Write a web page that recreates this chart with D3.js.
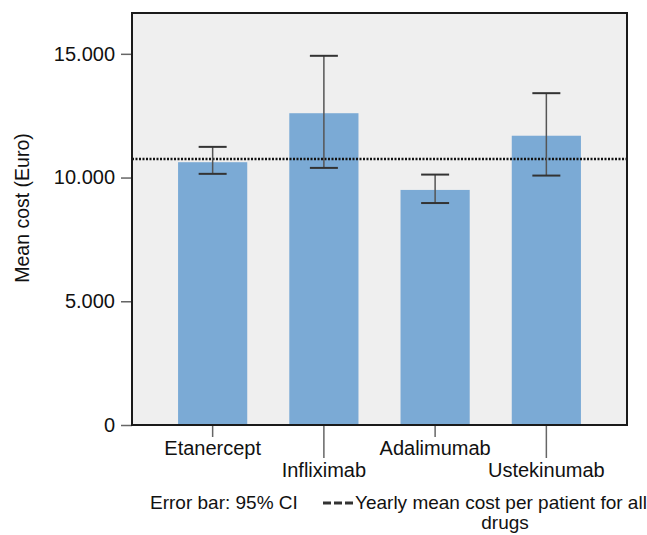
<!DOCTYPE html>
<html lang="en">
<head>
    <meta charset="UTF-8">
    <title>Mean cost per drug</title>
    <script src="https://d3js.org/d3.v7.min.js"></script>
    <style>
        body {
            margin: 0;
            padding: 0;
            background-color: #fff;
            font-family: 'Liberation Sans', Arial, sans-serif;
        }

        .axis text {
            font-size: 20px;
            fill: #111;
        }

        .axis-label {
            font-size: 19.5px;
            fill: #111;
        }

        .note {
            font-size: 19px;
            fill: #111;
        }
    </style>
</head>
<body>
    <svg width="647" height="535"></svg>

    <script>
        // Data
        const drugs = ["Etanercept", "Infliximab", "Adalimumab", "Ustekinumab"];
        const meanCost = [10620, 12600, 9500, 11690];
        const ciLow = [10150, 10390, 8970, 10080];
        const ciHigh = [11240, 14920, 10120, 13410];
        const yearlyMean = 10750;
        const yTicks = [0, 5000, 10000, 15000];

        const svg = d3.select("svg"),
              margin = { top: 13, right: 20, bottom: 110, left: 132 },
              width = +svg.attr("width") - margin.left - margin.right,
              height = +svg.attr("height") - margin.top - margin.bottom;

        const x = d3.scaleBand()
            .domain(drugs)
            .range([0, width])
            .paddingInner(0.378)
            .paddingOuter(0.414);

        const y = d3.scaleLinear()
            .domain([0, 16650])
            .range([height, 0]);

        // 15.000 style thousands
        const euro = d3.formatLocale({ decimal: ",", thousands: ".", grouping: [3], currency: ["", "€"] });
        const fmt = euro.format(",");

        const g = svg.append("g").attr("transform", `translate(${margin.left},${margin.top})`);

        // plot area
        g.append("rect")
            .attr("width", width)
            .attr("height", height)
            .attr("fill", "#efefef");

        // bars
        g.selectAll(".bar")
            .data(drugs)
            .join("rect")
            .attr("class", "bar")
            .attr("x", d => x(d))
            .attr("y", (d, i) => y(meanCost[i]))
            .attr("width", x.bandwidth())
            .attr("height", (d, i) => height - y(meanCost[i]))
            .attr("fill", "#7baad5");

        // reference line
        g.append("line")
            .attr("x1", 0)
            .attr("x2", width)
            .attr("y1", y(yearlyMean))
            .attr("y2", y(yearlyMean))
            .attr("stroke", "#111")
            .attr("stroke-width", 2.5)
            .attr("stroke-dasharray", "2,1.5");

        // error bars
        const capW = 14;
        const err = g.append("g").selectAll("g")
            .data(drugs)
            .join("g")
            .attr("transform", d => `translate(${x(d) + x.bandwidth() / 2},0)`);

        err.append("line")
            .attr("y1", (d, i) => y(ciLow[i]))
            .attr("y2", (d, i) => y(ciHigh[i]))
            .attr("stroke", "#555")
            .attr("stroke-width", 1.5);

        err.selectAll(".cap")
            .data((d, i) => [ciLow[i], ciHigh[i]])
            .join("line")
            .attr("class", "cap")
            .attr("x1", -capW)
            .attr("x2", capW)
            .attr("y1", d => y(d))
            .attr("y2", d => y(d))
            .attr("stroke", "#333")
            .attr("stroke-width", 2);

        // y axis
        const yAxis = g.append("g")
            .attr("class", "axis")
            .call(d3.axisLeft(y).tickValues(yTicks).tickFormat(fmt).tickSize(11).tickPadding(6));
        yAxis.select(".domain").remove();
        yAxis.selectAll(".tick line").attr("stroke", "#666").attr("stroke-width", 1.5);
        yAxis.selectAll("text").style("font-size", "20px");

        // x axis, labels staggered
        const xAxis = g.append("g")
            .attr("class", "axis")
            .attr("transform", `translate(0,${height})`)
            .call(d3.axisBottom(x).tickSize(0));
        xAxis.select(".domain").remove();
        xAxis.selectAll(".tick line")
            .attr("y2", (d, i) => i % 2 ? 33 : 12)
            .attr("stroke", "#666")
            .attr("stroke-width", 1.5);
        xAxis.selectAll(".tick text")
            .attr("dy", 0)
            .attr("y", (d, i) => i % 2 ? 52 : 30)
            .style("font-size", "20px");

        // frame
        g.append("rect")
            .attr("width", width)
            .attr("height", height)
            .attr("fill", "none")
            .attr("stroke", "#1a1a1a")
            .attr("stroke-width", 2);

        // y title
        svg.append("text")
            .attr("class", "axis-label")
            .attr("transform", "translate(29,208) rotate(-90)")
            .attr("text-anchor", "middle")
            .text("Mean cost (Euro)");

        // footer
        svg.append("text")
            .attr("class", "note")
            .attr("x", 150)
            .attr("y", 509)
            .text("Error bar: 95% CI");

        svg.append("line")
            .attr("x1", 323)
            .attr("x2", 353)
            .attr("y1", 503)
            .attr("y2", 503)
            .attr("stroke", "#333")
            .attr("stroke-width", 3)
            .attr("stroke-dasharray", "8,3");

        svg.append("text")
            .attr("class", "note")
            .attr("x", 355)
            .attr("y", 509)
            .text("Yearly mean cost per patient for all");

        svg.append("text")
            .attr("class", "note")
            .attr("x", 505)
            .attr("y", 529)
            .attr("text-anchor", "middle")
            .text("drugs");
    </script>
</body>
</html>
